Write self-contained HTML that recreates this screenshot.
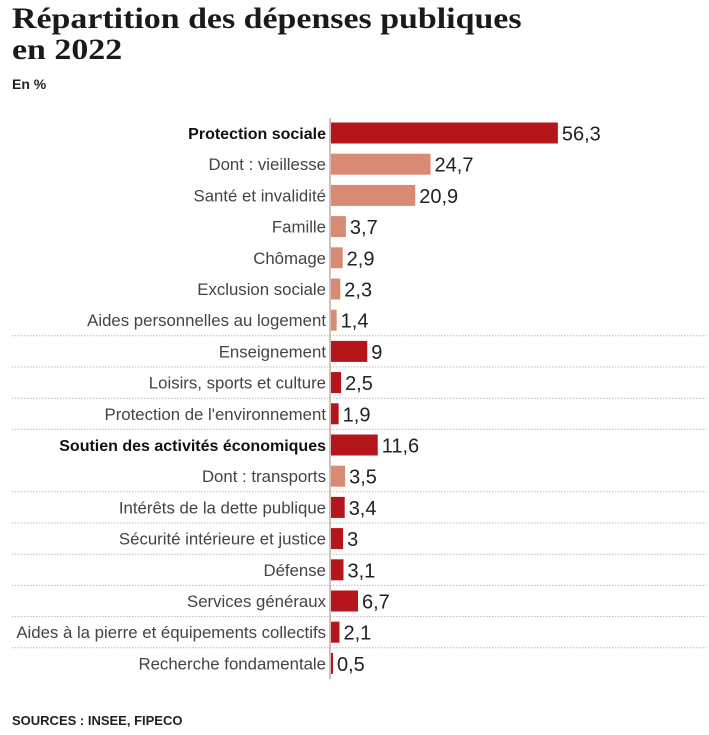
<!DOCTYPE html>
<html><head><meta charset="utf-8"><style>
body{margin:0;width:709px;height:735px;background:#fff;overflow:hidden;font-family:"Liberation Sans",sans-serif}
#title{position:absolute;left:12px;top:3px;font-family:"Liberation Serif",serif;font-weight:bold;font-size:30px;line-height:31px;color:#1a1a1a;margin:0;transform:scaleX(1.13);transform-origin:0 0;white-space:nowrap}
#unit{position:absolute;left:12px;top:76px;font-weight:bold;font-size:14px;color:#222}
#src{position:absolute;left:12px;top:713px;font-weight:bold;font-size:13px;color:#222}
svg{position:absolute;left:0;top:0}
</style></head><body>
<h1 id="title">Répartition des dépenses publiques<br>en 2022</h1>
<div id="unit">En %</div>
<svg id="chart" width="709" height="735"></svg>
<div id="src">SOURCES : INSEE, FIPECO</div>
<script>
const categories=["Protection sociale","Dont : vieillesse","Santé et invalidité","Famille","Chômage","Exclusion sociale","Aides personnelles au logement","Enseignement","Loisirs, sports et culture","Protection de l'environnement","Soutien des activités économiques","Dont : transports","Intérêts de la dette publique","Sécurité intérieure et justice","Défense","Services généraux","Aides à la pierre et équipements collectifs","Recherche fondamentale"];
const values=[56.3,24.7,20.9,3.7,2.9,2.3,1.4,9,2.5,1.9,11.6,3.5,3.4,3,3.1,6.7,2.1,0.5];
const valueLabels=["56,3","24,7","20,9","3,7","2,9","2,3","1,4","9","2,5","1,9","11,6","3,5","3,4","3","3,1","6,7","2,1","0,5"];
const subItem=[0,1,1,1,1,1,1,0,0,0,0,1,0,0,0,0,0,0];
const boldItem=[1,0,0,0,0,0,0,0,0,0,1,0,0,0,0,0,0,0];
const separatorAfter=[6,7,8,9,11,12,13,14,15,16];

const svg=document.getElementById('chart');
const NS='http://www.w3.org/2000/svg';
const x0=331, scale=4.03, y0=133, step=31.2, barH=21;
const xs=v=>x0+v*scale;
const ys=i=>y0+i*step;

separatorAfter.forEach(i=>{
  const l=document.createElementNS(NS,'line');
  
  
  const y=(ys(i)+ys(i+1))/2;
  l.setAttribute('x1',12);l.setAttribute('x2',706);l.setAttribute('y1',y);l.setAttribute('y2',y);
  l.setAttribute('stroke','#bbb');l.setAttribute('stroke-width','1');l.setAttribute('stroke-dasharray','1.5 1.5');
  svg.appendChild(l);
});

categories.forEach((c,i)=>{
  const y=ys(i);
  const r=document.createElementNS(NS,'rect');
  
  
  r.setAttribute('x',x0);r.setAttribute('y',y-barH/2);
  r.setAttribute('width',Math.max(xs(values[i])-x0,1));r.setAttribute('height',barH);
  r.setAttribute('fill',subItem[i]?'#d98a72':'#b5161b');
  svg.appendChild(r);
  const t=document.createElementNS(NS,'text');
  
  
  t.setAttribute('x',326);t.setAttribute('y',y+6);t.setAttribute('text-anchor','end');
  t.setAttribute('font-size','16.8');
  t.setAttribute('fill',boldItem[i]?'#111':'#444');
  if(boldItem[i]){t.setAttribute('font-weight','bold');t.setAttribute('font-size','16');}
  t.textContent=c;svg.appendChild(t);
  const v=document.createElementNS(NS,'text');
  
  
  v.setAttribute('x',xs(values[i])+4);v.setAttribute('y',y+7.5);
  v.setAttribute('font-size','20');v.setAttribute('fill','#222');
  v.textContent=valueLabels[i];svg.appendChild(v);
});

const ax=document.createElementNS(NS,'line');


ax.setAttribute('x1',330);ax.setAttribute('x2',330);ax.setAttribute('y1',118);ax.setAttribute('y2',679);
ax.setAttribute('stroke','#c9a9a0');ax.setAttribute('stroke-width','1.5');
svg.appendChild(ax);
</script>
</body></html>
